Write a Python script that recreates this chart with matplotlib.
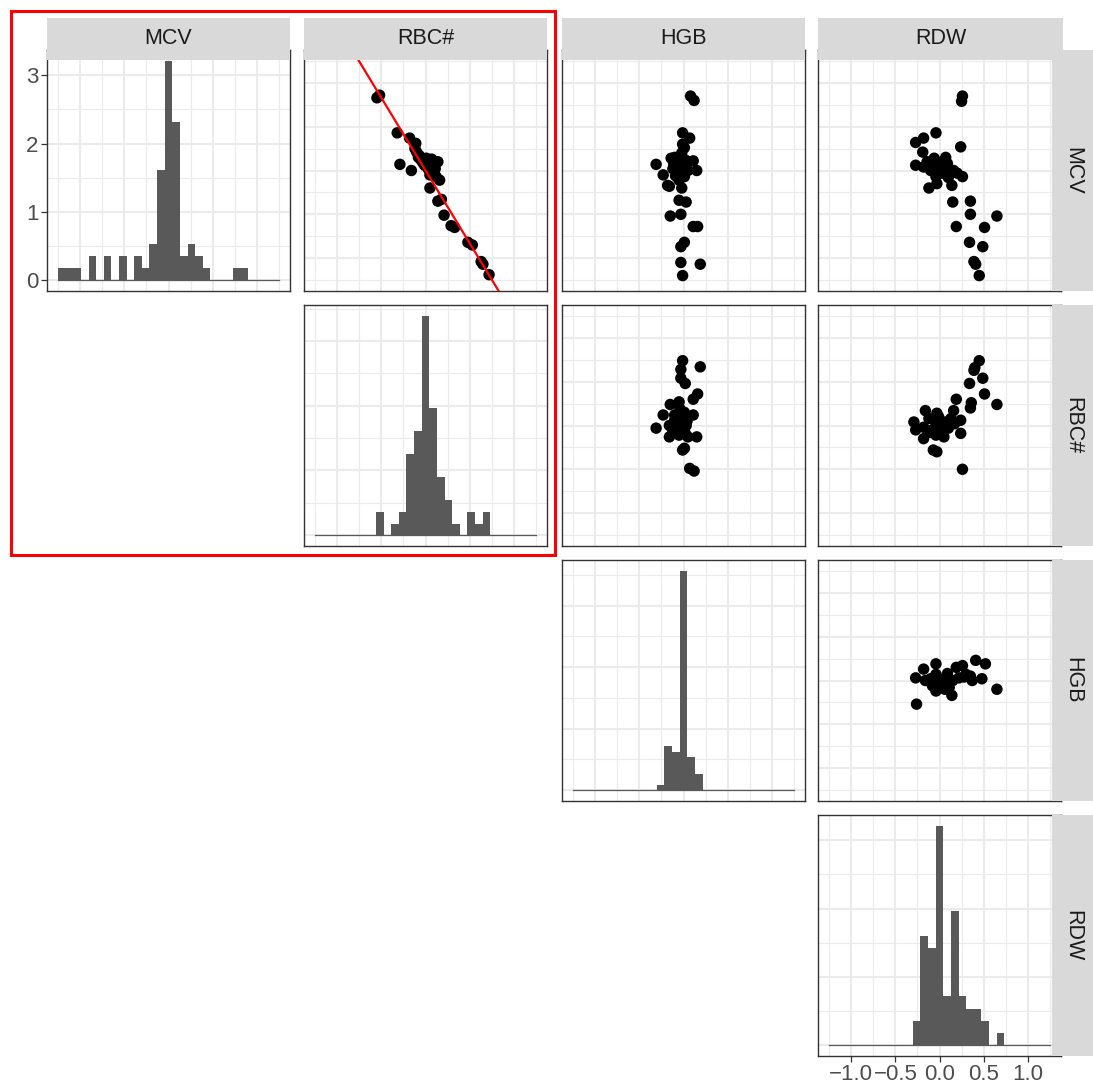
import matplotlib
matplotlib.use("Agg")
import matplotlib.pyplot as plt
import numpy as np
from matplotlib.patches import Rectangle

plt.rcParams['font.family'] = ['Liberation Sans', 'DejaVu Sans']

VARS = ['MCV', 'RBC#', 'HGB', 'RDW']
N_SAMPLES = 65

# histogram bins (29 bins, one centred on 0) and counts per bin
HIST_EDGES = np.linspace(-1.251, 1.251, 30)
MCV_COUNTS = [1, 1, 1, 0, 2, 0, 2, 0, 2, 0, 2, 1, 3, 9, 18, 13, 2, 3, 2, 1, 0, 0, 0, 1, 1, 0, 0, 0, 0]
RBC_COUNTS = [0, 0, 0, 0, 0, 0, 0, 0, 2, 0, 1, 2, 7, 9, 19, 11, 5, 3, 1, 0, 2, 1, 2, 0, 0, 0, 0, 0, 0]
HGB_COUNTS = [0, 0, 0, 0, 0, 0, 0, 0, 0, 0, 0, 1, 8, 7, 40, 6, 3, 0, 0, 0, 0, 0, 0, 0, 0, 0, 0, 0, 0]
RDW_COUNTS = [0, 0, 0, 0, 0, 0, 0, 0, 0, 0, 0, 2, 9, 8, 18, 4, 11, 4, 3, 3, 2, 0, 1, 0, 0, 0, 0, 0, 0]
HIST_YSTEP = [1, 1, 2, 1]

# scatter panels (x = column variable, y = row variable)
RBC_MCV_X = [-0.55, -0.52, -0.32, -0.18, -0.11, -0.12, -0.29, -0.16, -0.07, 0.01, 0.06, 0.14, 0.03, 0.08,
             0.12, 0.16, -0.01, -0.05, -0.10, 0.10, 0.04, 0.09, 0.05, 0.05, 0.14, 0.18, 0.21, 0.29, 0.33,
             0.48, 0.53, 0.63, 0.65, 0.72, -0.03, 0.02, 0.11, 0.07, -0.08]
RBC_MCV_Y = [0.83, 0.86, 0.43, 0.37, 0.31, 0.25, 0.07, 0.00, 0.17, 0.14, 0.08, 0.10, 0.02, -0.02,
             -0.07, -0.11, 0.06, 0.12, 0.21, 0.04, 0.10, 0.00, -0.05, -0.20, -0.35, -0.33, -0.51, -0.63, -0.65,
             -0.82, -0.85, -1.04, -1.07, -1.19, 0.09, 0.05, 0.02, 0.13, 0.15]
LINE_SLOPE = -1.66
LINE_INTERCEPT = 0.0

HGB_MCV_X = [0.08, 0.12, -0.01, 0.07, -0.01, 0.01, -0.31, 0.11, 0.15, -0.23, -0.18, -0.16, -0.10, -0.03,
             -0.12, -0.06, 0.01, 0.03, -0.08, -0.05, -0.14, 0.05, -0.02, 0.00, -0.02, -0.05, 0.03, -0.15,
             -0.03, 0.11, 0.16, -0.03, 0.01, -0.03, 0.19, -0.01, -0.07, 0.02, -0.09, -0.11]
HGB_MCV_Y = [0.85, 0.80, 0.43, 0.37, 0.30, 0.26, 0.07, 0.11, 0.00, -0.05, -0.17, -0.18, 0.15, 0.10,
             0.02, -0.02, -0.07, 0.06, 0.08, -0.11, 0.14, 0.00, 0.20, 0.00, -0.20, -0.34, -0.36, -0.52,
             -0.50, -0.64, -0.64, -0.87, -0.82, -1.05, -1.07, -1.20, 0.04, 0.12, -0.06, 0.07]

RDW_MCV_X = [0.26, 0.25, -0.04, -0.27, -0.18, 0.24, -0.19, -0.27, -0.18, -0.06, 0.07, -0.01, -0.10, 0.03,
             0.16, 0.26, -0.04, 0.09, -0.12, -0.03, 0.14, 0.20, -0.05, 0.05, 0.15, 0.35, 0.35, 0.65, 0.19,
             0.51, 0.34, 0.49, 0.39, 0.41, 0.45, -0.08, 0.01, 0.10, -0.14, 0.06]
RDW_MCV_Y = [0.85, 0.79, 0.43, 0.32, 0.37, 0.27, 0.21, 0.06, 0.04, 0.14, 0.15, 0.08, 0.00, -0.03,
             0.00, -0.07, -0.07, 0.08, -0.20, -0.15, -0.17, -0.03, 0.05, 0.02, -0.36, -0.35, -0.50, -0.52, -0.64,
             -0.65, -0.82, -0.87, -1.04, -1.07, -1.20, 0.09, 0.00, -0.08, 0.10, 0.12]

HGB_RBC_X = [-0.01, -0.03, 0.19, -0.03, 0.02, 0.16, 0.11, -0.15, -0.05, -0.23, -0.10, 0.01, 0.11, -0.16,
             -0.05, 0.03, -0.16, -0.05, 0.05, 0.15, -0.08, -0.10, 0.00, -0.02, -0.31, -0.01, 0.01, 0.07, 0.12,
             -0.12, -0.04, 0.04, -0.08, 0.02]
HGB_RBC_Y = [0.74, 0.64, 0.67, 0.54, 0.48, 0.36, 0.30, 0.24, 0.27, 0.12, 0.12, 0.15, 0.12, 0.00,
             0.02, 0.00, -0.13, -0.11, -0.13, -0.13, -0.05, 0.06, 0.08, -0.06, -0.03, -0.28, -0.26, -0.49, -0.52,
             -0.07, 0.19, 0.05, 0.10, -0.09]

RDW_RBC_X = [0.45, 0.40, 0.39, 0.49, 0.34, 0.51, 0.19, 0.36, 0.35, 0.65, -0.16, -0.03, 0.16, -0.27,
             -0.18, -0.04, 0.07, 0.24, -0.18, -0.04, 0.05, 0.24, -0.07, -0.03, -0.29, -0.12, 0.13, 0.00,
             -0.08, 0.26, 0.03, -0.10, 0.10, -0.01, 0.17]
RDW_RBC_Y = [0.74, 0.66, 0.63, 0.54, 0.48, 0.36, 0.30, 0.26, 0.20, 0.24, 0.17, 0.14, 0.17, -0.05,
             -0.02, 0.00, 0.04, 0.06, -0.15, -0.11, -0.13, -0.09, -0.28, -0.30, 0.04, 0.08, 0.08, 0.05,
             -0.05, -0.50, -0.06, -0.08, -0.03, 0.10, 0.02]

RDW_HGB_X = [-0.26, -0.04, 0.41, 0.52, 0.65, -0.27, -0.18, -0.16, -0.04, 0.07, 0.19, 0.26, 0.35, 0.48,
             0.37, -0.04, 0.11, 0.14, 0.03, 0.22, -0.10, 0.00, 0.15, -0.08, 0.28, 0.06, -0.01, 0.30, 0.09]
RDW_HGB_Y = [-0.27, 0.19, 0.23, 0.19, -0.10, 0.03, 0.13, 0.00, 0.07, 0.03, 0.15, 0.17, 0.05, 0.02,
             0.00, -0.12, -0.08, -0.17, -0.04, 0.03, 0.02, 0.00, 0.00, -0.06, 0.04, -0.10, -0.05, 0.07, 0.08]

X_MAJOR = [-1.0, -0.5, 0.0, 0.5, 1.0]
X_MINOR = [-1.25, -0.75, -0.25, 0.25, 0.75, 1.25]
X_LABELS = ['\u22121.0', '\u22120.5', '0.0', '0.5', '1.0']
LIM = 1.376

W, H = 1093, 1088
COL_LEFT = [47, 304, 562, 818]
ROW_TOP = [50, 305, 560, 815]
PW, PH = 243, 241
GRID = '#EBEBEB'
STRIP = '#D9D9D9'

fig = plt.figure(figsize=(W / 100, H / 100), dpi=100)


def add_panel(r, c):
    x0, y0 = COL_LEFT[c], ROW_TOP[r]
    ax = fig.add_axes([x0 / W, 1 - (y0 + PH) / H, PW / W, PH / H])
    ax.set_xlim(-LIM, LIM)
    ax.set_xticks(X_MAJOR)
    ax.set_xticks(X_MINOR, minor=True)
    ax.grid(which='major', color=GRID, lw=1.5)
    ax.grid(which='minor', color=GRID, lw=0.8)
    ax.set_axisbelow(True)
    for s in ax.spines.values():
        s.set_color('#333333')
        s.set_linewidth(1.0)
    ax.tick_params(which='both', length=0, labelbottom=False, labelleft=False)
    return ax


def set_y_grid(ax, lo, hi, step):
    maj = np.arange(0, hi + 1e-9, step)
    ax.set_ylim(lo, hi)
    ax.set_yticks(maj)
    mins = np.concatenate([maj - step / 2, [maj[-1] + step / 2]])
    ax.set_yticks([m for m in mins if lo < m < hi], minor=True)


# diagonal histograms
counts = [MCV_COUNTS, RBC_COUNTS, HGB_COUNTS, RDW_COUNTS]
bw = HIST_EDGES[1] - HIST_EDGES[0]
for i in range(4):
    ax = add_panel(i, i)
    dens = np.array(counts[i]) / (N_SAMPLES * bw)
    m = dens.max()
    ax.stairs(dens, HIST_EDGES, fill=True, color='#595959', lw=0)
    ax.plot([HIST_EDGES[0], HIST_EDGES[-1]], [0, 0], color='#595959', lw=0.9)
    set_y_grid(ax, -0.05 * m, 1.05 * m, HIST_YSTEP[i])
    if i == 0:
        ax.tick_params(axis='y', which='major', length=4, width=0.9, color='#333333',
                       labelleft=True, labelsize=16, labelcolor='#4D4D4D', pad=2)
        ax.set_yticklabels([f'{int(v)}' for v in ax.get_yticks()])
    if i == 3:
        ax.tick_params(axis='x', which='major', length=4, width=0.9, color='#333333',
                       labelbottom=True, labelsize=16, labelcolor='#4D4D4D', pad=2)
        ax.set_xticklabels(X_LABELS)

# upper scatter panels
scatters = [(0, 1, RBC_MCV_X, RBC_MCV_Y), (0, 2, HGB_MCV_X, HGB_MCV_Y), (0, 3, RDW_MCV_X, RDW_MCV_Y),
            (1, 2, HGB_RBC_X, HGB_RBC_Y), (1, 3, RDW_RBC_X, RDW_RBC_Y), (2, 3, RDW_HGB_X, RDW_HGB_Y)]
for r, c, xs, ys in scatters:
    ax = add_panel(r, c)
    ax.set_ylim(-LIM, LIM)
    ax.set_yticks(X_MAJOR)
    ax.set_yticks(X_MINOR, minor=True)
    ax.scatter(xs, ys, s=68, c='black', edgecolors='none', zorder=3)
    if (r, c) == (0, 1):
        ax.axline((0, LINE_INTERCEPT), slope=LINE_SLOPE, color='red', lw=1.6, zorder=4)


def px_rect(x0, y0, x1, y1, **kw):
    return Rectangle((x0 / W, 1 - y1 / H), (x1 - x0) / W, (y1 - y0) / H,
                     transform=fig.transFigure, **kw)


# strips
for c, name in enumerate(VARS):
    x1 = COL_LEFT[c] + PW if c < 3 else 1063
    fig.add_artist(px_rect(COL_LEFT[c], 18, x1, 60, color=STRIP, lw=0, zorder=5))
    fig.text((COL_LEFT[c] + x1) / 2 / W, 1 - 39 / H, name, ha='center', va='center',
             fontsize=15.5, color='#1A1A1A', zorder=6)
for r, name in enumerate(VARS):
    fig.add_artist(px_rect(1052, ROW_TOP[r], 1093, ROW_TOP[r] + PH, color=STRIP, lw=0, zorder=5))
    fig.text(1073 / W, 1 - (ROW_TOP[r] + PH / 2) / H, name, ha='center', va='center',
             rotation=270, fontsize=15.5, color='#1A1A1A', zorder=6)

# red highlight box
fig.add_artist(px_rect(10.5, 10.5, 554.5, 554.5, fill=False, edgecolor='red', lw=2.2, zorder=7))

fig.savefig('out.png', dpi=100)
